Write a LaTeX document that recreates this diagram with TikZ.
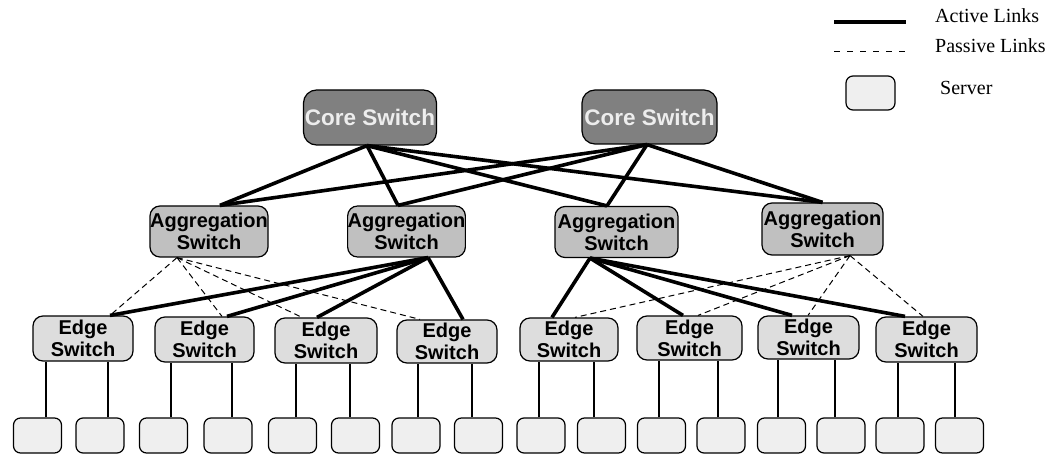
\documentclass[tikz,border=0pt]{standalone}
\usepackage{fontspec}
\setmainfont{Liberation Serif}
\setsansfont{Liberation Sans}
\definecolor{corefill}{HTML}{808080}
\definecolor{coretext}{HTML}{EDEDED}
\definecolor{aggfill}{HTML}{C0C0C0}
\definecolor{edgefill}{HTML}{DDDDDD}
\definecolor{serverfill}{HTML}{EFEFEF}
\begin{document}
\begin{tikzpicture}[x=1pt,y=-1pt,
  box/.style={draw=black, line width=1.2pt, rounded corners=10pt, inner sep=0pt, align=center,
    font=\sffamily\bfseries\fontsize{20}{22}\selectfont},
  core/.style={box, fill=corefill, text=coretext, rounded corners=13pt,
    font=\sffamily\bfseries\fontsize{22.5}{24}\selectfont},
  agg/.style={box, fill=aggfill, minimum height=51pt},
  edgesw/.style={box, fill=edgefill, minimum height=45pt},
  server/.style={draw=black, line width=1.2pt, fill=serverfill, rounded corners=7pt,
    minimum width=48pt, minimum height=35pt, inner sep=0pt},
  active/.style={line width=3.6pt},
  passive/.style={line width=1pt, dash pattern=on 6pt off 4pt},
  wire/.style={line width=1.3pt},
  legtext/.style={anchor=base west, inner sep=0pt, font=\fontsize{20}{22}\selectfont}]
\useasboundingbox (0,0) rectangle (1049,454);

% core switches
\node[core, minimum width=133pt, minimum height=55pt] (c1) at (370,117.5) {Core Switch};
\node[core, minimum width=135pt, minimum height=54pt] (c2) at (649.5,117) {Core Switch};

% aggregation switches
\node[agg, minimum width=118pt] (a1) at (209,231.5) {Aggregation\\Switch};
\node[agg, minimum width=117pt] (a2) at (406.5,231.5) {Aggregation\\Switch};
\node[agg, minimum width=123pt] (a3) at (616.5,232) {Aggregation\\Switch};
\node[agg, minimum width=121pt, minimum height=52pt] (a4) at (822.5,229) {Aggregation\\Switch};

% edge switches
\node[edgesw, minimum width=100pt] (e1) at (83,338.5) {Edge\\Switch};
\node[edgesw, minimum width=99pt] (e2) at (204.5,339.5) {Edge\\Switch};
\node[edgesw, minimum width=102pt] (e3) at (326,340.5) {Edge\\Switch};
\node[edgesw, minimum width=100pt, minimum height=43pt] (e4) at (447,341.5) {Edge\\Switch};
\node[edgesw, minimum width=98pt, minimum height=43pt] (e5) at (569,339.5) {Edge\\Switch};
\node[edgesw, minimum width=105pt, minimum height=44pt] (e6) at (689.5,338) {Edge\\Switch};
\node[edgesw, minimum width=101pt, minimum height=43pt] (e7) at (808.5,337.5) {Edge\\Switch};
\node[edgesw, minimum width=101pt] (e8) at (926.5,339.5) {Edge\\Switch};

% servers
\foreach \i/\x in {1/37.5,2/100,3/163.5,4/228,5/292.5,6/355.5,7/416,8/478.5,
                   9/541,10/601.5,11/661.5,12/721,13/781.5,14/841,15/900,16/959.5}
  \node[server] (s\i) at (\x,435.5) {};

% server wires
\foreach \i/\e/\d in {1/1/8.5,2/1/8,3/2/7.5,4/2/4,5/3/3.5,6/3/-5.5,7/4/2,8/4/-6.5,
                      9/5/-2,10/5/-7.5,11/6/-2.5,12/6/-3,13/7/-3.5,14/7/-6,15/8/-2,16/8/-4.5}
  \draw[wire] ([xshift=\d]s\i.north) -- ([xshift=\d]s\i.north |- e\e.south);

% attachment points
\coordinate (c1b) at ([xshift=-3]c1.south);
\coordinate (c2b) at ([xshift=-2.5]c2.south);
\coordinate (a1t) at ([xshift=11]a1.north);
\coordinate (a2t) at ([xshift=-8.5]a2.north);
\coordinate (a3t) at ([xshift=-9.5]a3.north);
\coordinate (a4t) at (a4.north);
\coordinate (a1b) at ([xshift=-32]a1.south);
\coordinate (a2b) at ([xshift=21.5]a2.south);
\coordinate (a3b) at ([xshift=-26.5]a3.south);
\coordinate (a4b) at ([xshift=27.5]a4.south);

% core - aggregation (active)
\foreach \c in {c1b,c2b}
  \foreach \a in {a1t,a2t,a3t,a4t}
    \draw[active] (\c) -- (\a);

% aggregation - edge
\draw[passive] (a1b) -- ([xshift=27]e1.north);
\draw[passive] (a1b) -- ([xshift=17.5]e2.north);
\draw[passive] (a1b) -- ([xshift=-24]e3.north);
\draw[passive] (a1b) -- ([xshift=-27]e4.north);
\draw[active] (a2b) -- ([xshift=27]e1.north);
\draw[active] (a2b) -- ([xshift=22.5]e2.north);
\draw[active] (a2b) -- ([xshift=-9]e3.north);
\draw[active] (a2b) -- ([xshift=16]e4.north);
\draw[active] (a3b) -- ([xshift=-17]e5.north);
\draw[active] (a3b) -- ([xshift=-6.5]e6.north);
\draw[active] (a3b) -- ([xshift=-16.5]e7.north);
\draw[active] (a3b) -- ([xshift=-21.5]e8.north);
\draw[passive] (a4b) -- ([xshift=6]e5.north);
\draw[passive] (a4b) -- ([xshift=8.5]e6.north);
\draw[passive] (a4b) -- ([xshift=-0.5]e7.north);
\draw[passive] (a4b) -- ([xshift=-3.5]e8.north);

% legend
\coordinate (la1) at (834,22);
\coordinate (la2) at (906,22);
\coordinate (lp1) at (834,52);
\coordinate (lp2) at (906,52);
\draw[line width=4pt] (la1) -- (la2);
\draw[line width=1pt, dash pattern=on 6pt off 7pt] (lp1) -- (lp2);
\node[legtext] (lt1) at (935,23) {Active Links};
\node[legtext] (lt2) at (935,53) {Passive Links};
\node[server, minimum width=49pt, minimum height=34pt] (ls) at (870.5,93) {};
\node[legtext] (lt3) at (940,95) {Server};
\end{tikzpicture}
\end{document}
